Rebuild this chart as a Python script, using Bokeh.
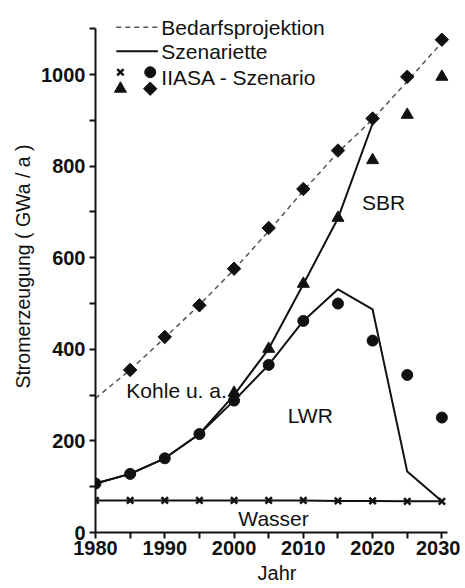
import math
from bokeh.plotting import figure
from bokeh.models import Range1d, Label, FixedTicker
from bokeh.embed import file_html
from bokeh.resources import INLINE

# ---- data ----
years = [1980, 1985, 1990, 1995, 2000, 2005, 2010, 2015, 2020, 2025, 2030]
bedarf_vals = [293, 355, 425, 497, 574, 658, 746, 830, 902, 985, 1070]

diamond_years = [1985, 1990, 1995, 2000, 2005, 2010, 2015, 2020, 2025, 2030]
diamond_vals = [355, 427, 496, 576, 665, 750, 834, 904, 995, 1076]

circle_vals = [107, 128, 162, 215, 288, 366, 462, 500, 419, 344, 251]

triangle_years = [2000, 2005, 2010, 2015, 2020, 2025, 2030]
triangle_vals = [305, 401, 543, 687, 813, 912, 995]

cross_vals = [70, 70, 70, 70, 70, 70, 70, 69, 69, 68, 68]

sbr_years = [1980, 1985, 1990, 1995, 2000, 2005, 2010, 2015, 2020]
sbr_vals = [107, 128, 162, 215, 300, 401, 542, 686, 893]

lwr_vals = [107, 128, 162, 215, 288, 366, 462, 531, 487, 133, 68]

wasser_vals = [70, 70, 70, 70, 70, 70, 70, 69, 69, 68, 68]

y_ticks = [0, 200, 400, 600, 800, 1000]
y_minor = [100, 300, 500, 700, 900, 1100]
x_ticks = [1980, 1990, 2000, 2010, 2020, 2030]
x_minor = [1985, 1995, 2005, 2015, 2025]

FONT = "Liberation Sans"
INK = "#111111"
TXT = "21px"

p = figure(width=460, height=588,
           x_range=Range1d(1980, 2032.4), y_range=Range1d(0, 1161.6),
           output_backend="svg", toolbar_location=None,
           min_border_left=95, min_border_right=2,
           min_border_top=0, min_border_bottom=56)
p.outline_line_color = None
p.grid.visible = False
p.background_fill_color = "white"

# axes
p.yaxis.bounds = (0, 1100)
p.xaxis.bounds = (1980, 2030.8)
p.yaxis.ticker = FixedTicker(ticks=y_ticks, minor_ticks=y_minor)
p.xaxis.ticker = FixedTicker(ticks=x_ticks, minor_ticks=x_minor)
for ax in (p.xaxis[0], p.yaxis[0]):
    ax.axis_line_color = INK
    ax.axis_line_width = 2
    ax.major_tick_line_color = INK
    ax.minor_tick_line_color = INK
    ax.major_tick_line_width = 2
    ax.minor_tick_line_width = 2
    ax.major_tick_in = 0
    ax.minor_tick_in = 0
    ax.major_tick_out = 6
    ax.minor_tick_out = 6
    ax.major_label_text_font = FONT
    ax.major_label_text_font_size = "20px"
    ax.major_label_text_font_style = "bold"
    ax.major_label_text_color = INK
    ax.axis_label_text_font = FONT
    ax.axis_label_text_font_style = "normal"
    ax.axis_label_text_color = INK
p.yaxis.major_label_standoff = 4
p.xaxis.major_label_standoff = 2
p.yaxis.axis_label = "Stromerzeugung ( GWa / a )"
p.yaxis.axis_label_text_font_size = "19.5px"
p.yaxis.axis_label_standoff = 4
p.xaxis.axis_label = "Jahr"
p.xaxis.axis_label_text_font_size = "20px"
p.xaxis.axis_label_standoff = 4

# Bedarfsprojektion (dashed)
p.line(years, bedarf_vals, line_color="#555555", line_width=1.5, line_dash="5 4")

# Szenariette lines
p.line(sbr_years, sbr_vals, line_color=INK, line_width=2)
p.line(years, lwr_vals, line_color=INK, line_width=2)
p.line(years, wasser_vals, line_color=INK, line_width=2)

# IIASA markers
p.scatter(years, cross_vals, marker="x", size=9, line_color=INK, line_width=2.5)
p.scatter(years, circle_vals, marker="circle", size=11, fill_color=INK, line_color=INK)
p.scatter(triangle_years, triangle_vals, marker="triangle", size=12, fill_color=INK, line_color=INK)
p.scatter(diamond_years, diamond_vals, marker="square", angle=math.pi / 4, size=9.5,
          fill_color=INK, line_color=INK)

# region labels
for txt, xx, yy in [("SBR", 2021.6, 721), ("LWR", 2011.0, 255),
                    ("Kohle u. a.", 1991.7, 310), ("Wasser", 2005.7, 31)]:
    p.add_layout(Label(x=xx, y=yy, text=txt, text_align="center", text_baseline="middle",
                       text_font=FONT, text_font_size=TXT, text_color=INK))

# legend (drawn manually to match the two-row marker layout)
p.line([1983.0, 1989.0], [1103, 1103], line_color="#555555", line_width=1.5, line_dash="5 4")
p.line([1983.0, 1989.0], [1051, 1051], line_color=INK, line_width=2)
p.scatter([1983.6], [1005], marker="x", size=9, line_color=INK, line_width=2.5)
p.scatter([1987.9], [1005], marker="circle", size=11, fill_color=INK, line_color=INK)
p.scatter([1983.6], [969], marker="triangle", size=12, fill_color=INK, line_color=INK)
p.scatter([1987.9], [969], marker="square", angle=math.pi / 4, size=9.5, fill_color=INK, line_color=INK)
for txt, yy in [("Bedarfsprojektion", 1103), ("Szenariette", 1051), ("IIASA - Szenario", 993)]:
    p.add_layout(Label(x=1989.5, y=yy, text=txt, text_align="left", text_baseline="middle",
                       text_font=FONT, text_font_size=TXT, text_color=INK))

open("out.html", "w").write(file_html(p, INLINE))
